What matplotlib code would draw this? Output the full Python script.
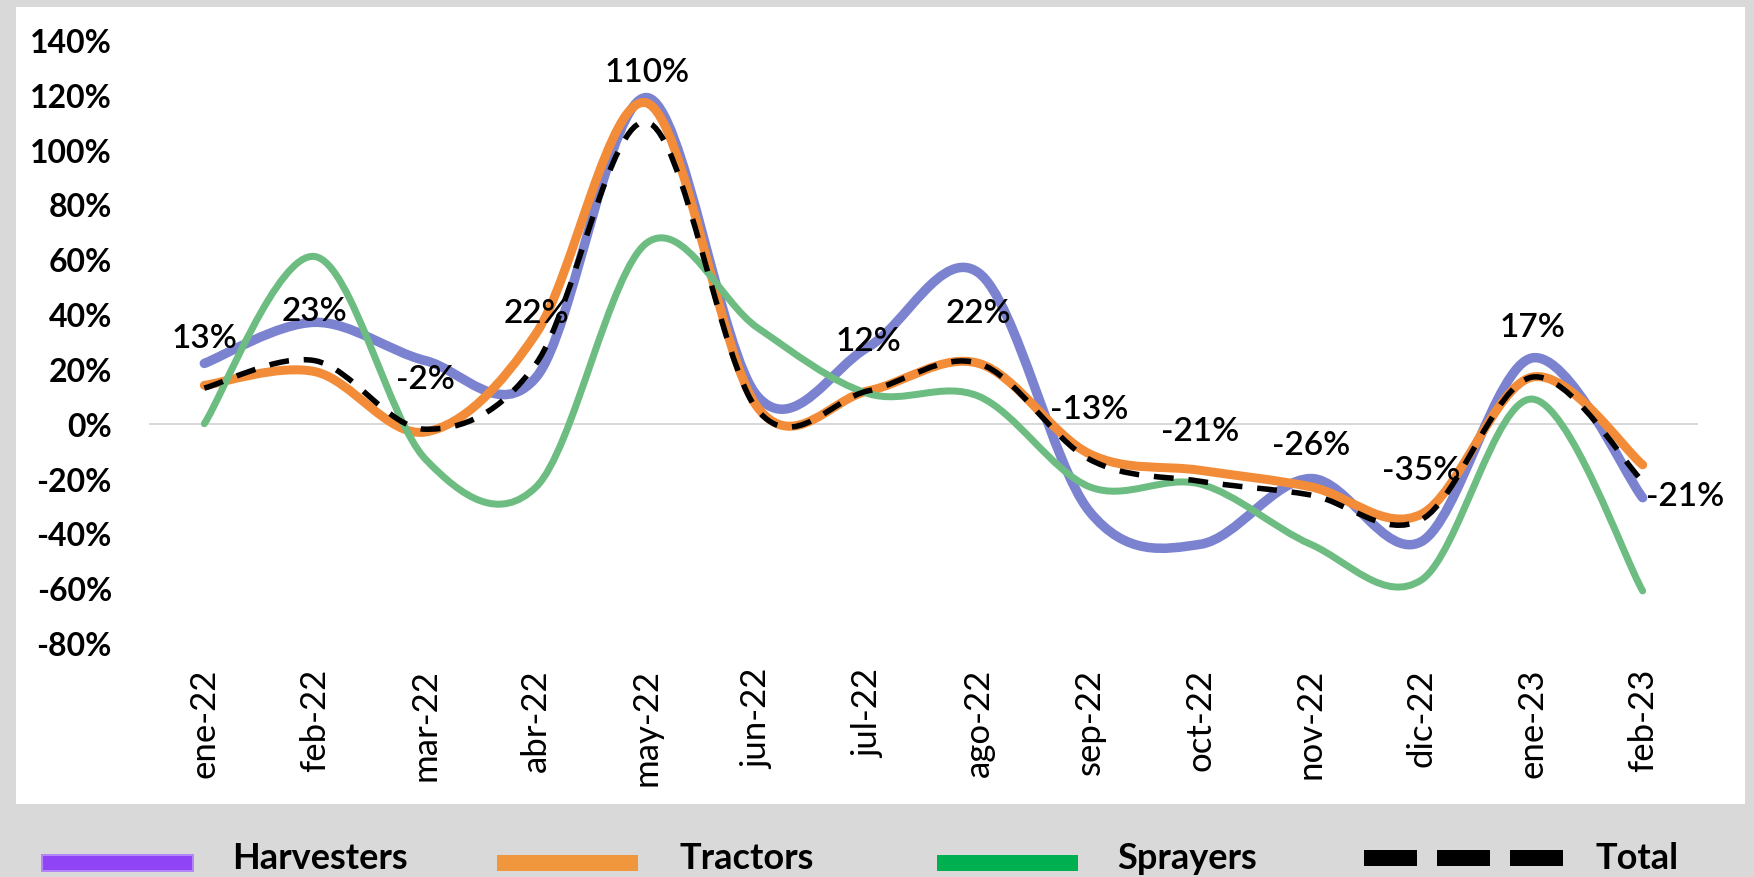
import numpy as np
import matplotlib
matplotlib.use("Agg")
import matplotlib.pyplot as plt
from matplotlib.path import Path
from matplotlib.patches import PathPatch, Rectangle

# ---------------- data ----------------
months = ["ene-22", "feb-22", "mar-22", "abr-22", "may-22", "jun-22", "jul-22",
          "ago-22", "sep-22", "oct-22", "nov-22", "dic-22", "ene-23", "feb-23"]
harvesters = [22, 37, 23, 17, 119, 10, 28, 55, -32, -44, -20, -43, 24, -27]
tractors = [14, 19, -3, 33, 117, 6, 12, 22, -11, -17, -23, -33, 17, -15]
sprayers = [0, 61, -13, -23, 66, 35, 11, 10, -23, -22, -44, -57, 9, -61]
total = [13, 23, -2, 22, 110, 5, 12, 22, -13, -21, -26, -35, 17, -21]
total_label_shown = [1, 1, 1, 1, 1, 0, 1, 1, 1, 1, 1, 1, 1, 1]
yticks = [-80, -60, -40, -20, 0, 20, 40, 60, 80, 100, 120, 140]
legend_names = ["Harvesters", "Tractors", "Sprayers", "Total"]

# ---------------- style ----------------
W, H = 1754, 878
DPI = 100
PX = 72 / DPI  # points per pixel
FONT = "Lato"

c_harv = "#7b83d1"
c_trac = "#f28c38"
c_spray = "#6dbd82"
c_total = "black"


def smooth_path(yvals):
    """Excel-style smoothed line as cubic Bezier segments (Catmull-Rom)."""
    x = np.arange(len(yvals), dtype=float)
    y = np.asarray(yvals, dtype=float)
    n = len(x)
    verts = [(x[0], y[0])]
    codes = [Path.MOVETO]
    for i in range(n - 1):
        xm, ym = (x[i - 1], y[i - 1]) if i > 0 else (x[i], y[i])
        xp, yp = (x[i + 2], y[i + 2]) if i + 2 < n else (x[i + 1], y[i + 1])
        c1 = (x[i] + (x[i + 1] - xm) / 6, y[i] + (y[i + 1] - ym) / 6)
        c2 = (x[i + 1] - (xp - x[i]) / 6, y[i + 1] - (yp - y[i]) / 6)
        verts += [c1, c2, (x[i + 1], y[i + 1])]
        codes += [Path.CURVE4] * 3
    return Path(verts, codes)


fig = plt.figure(figsize=(W / DPI, H / DPI), dpi=DPI)
fig.patch.set_facecolor("#d9d9d9")
fig.add_artist(Rectangle((16 / W, 1 - 805 / H), (1745 - 16) / W, (805 - 8) / H,
                         transform=fig.transFigure, facecolor="white",
                         edgecolor="none", zorder=-1))

ax = fig.add_axes([149 / W, 1 - 644 / H, 1549 / W, 603 / H])
ax.set_facecolor("none")
ax.set_xlim(-0.5, len(months) - 0.5)
ax.set_ylim(-80, 140)
for s in ax.spines.values():
    s.set_visible(False)

ax.axhline(0, color="#d9d9d9", lw=2 * PX, zorder=1)

series = [
    (harvesters, c_harv, 9.5 * PX),
    (tractors, c_trac, 9 * PX),
    (sprayers, c_spray, 7 * PX),
]
for vals, col, lw in series:
    ax.add_patch(PathPatch(smooth_path(vals), fill=False, edgecolor=col, lw=lw,
                           capstyle="round", joinstyle="round", zorder=3))
ax.add_patch(PathPatch(smooth_path(total), fill=False, edgecolor=c_total,
                       lw=5.5 * PX, linestyle=(0, (3.6, 2.7)), capstyle="butt",
                       zorder=4))

# data labels for Total
for i, (v, show) in enumerate(zip(total, total_label_shown)):
    if not show:
        continue
    if i == len(total) - 1:
        ax.annotate(f"{v}%", (i, v), xytext=(3 * PX, -15 * PX),
                    textcoords="offset points", ha="left", va="center",
                    fontsize=24, family=FONT, fontweight="semibold",
                    color="black", zorder=5)
    else:
        ax.annotate(f"{v}%", (i, v), xytext=(0, 50 * PX),
                    textcoords="offset points", ha="center", va="center",
                    fontsize=24, family=FONT, fontweight="semibold",
                    color="black", zorder=5)

ax.set_xticks(range(len(months)))
ax.set_xticklabels(months, rotation=90, fontsize=25, family=FONT)
ax.set_yticks(yticks)
ax.set_yticklabels([f"{t}%" for t in yticks], fontsize=23, family=FONT,
                   fontweight="bold")
ax.tick_params(axis="both", length=0)
ax.tick_params(axis="y", pad=37 * PX)
ax.tick_params(axis="x", pad=25 * PX)

# ---------------- legend (below panel, on grey) ----------------
def fig_rect(x0, x1, y0, y1, fc, ec="none", lw=0):
    fig.add_artist(Rectangle((x0 / W, 1 - y1 / H), (x1 - x0) / W, (y1 - y0) / H,
                             transform=fig.transFigure, facecolor=fc,
                             edgecolor=ec, lw=lw))

fig_rect(42, 193, 856, 872, "#8f44f6", ec="#b585fa", lw=2 * PX)
fig_rect(497, 638, 856, 872, "#f0963c")
fig_rect(937, 1078, 856, 872, "#00b050")
for x0 in (1364, 1437, 1510):
    fig_rect(x0, x0 + 53, 851, 867, "black")

for name, xpx in zip(legend_names, (232, 680, 1117, 1595)):
    fig.text(xpx / W, 1 - 869 / H, name, fontsize=26, family=FONT,
             fontweight="bold", ha="left", va="baseline", color="black")

fig.savefig("out.png", dpi=DPI, facecolor=fig.get_facecolor())
